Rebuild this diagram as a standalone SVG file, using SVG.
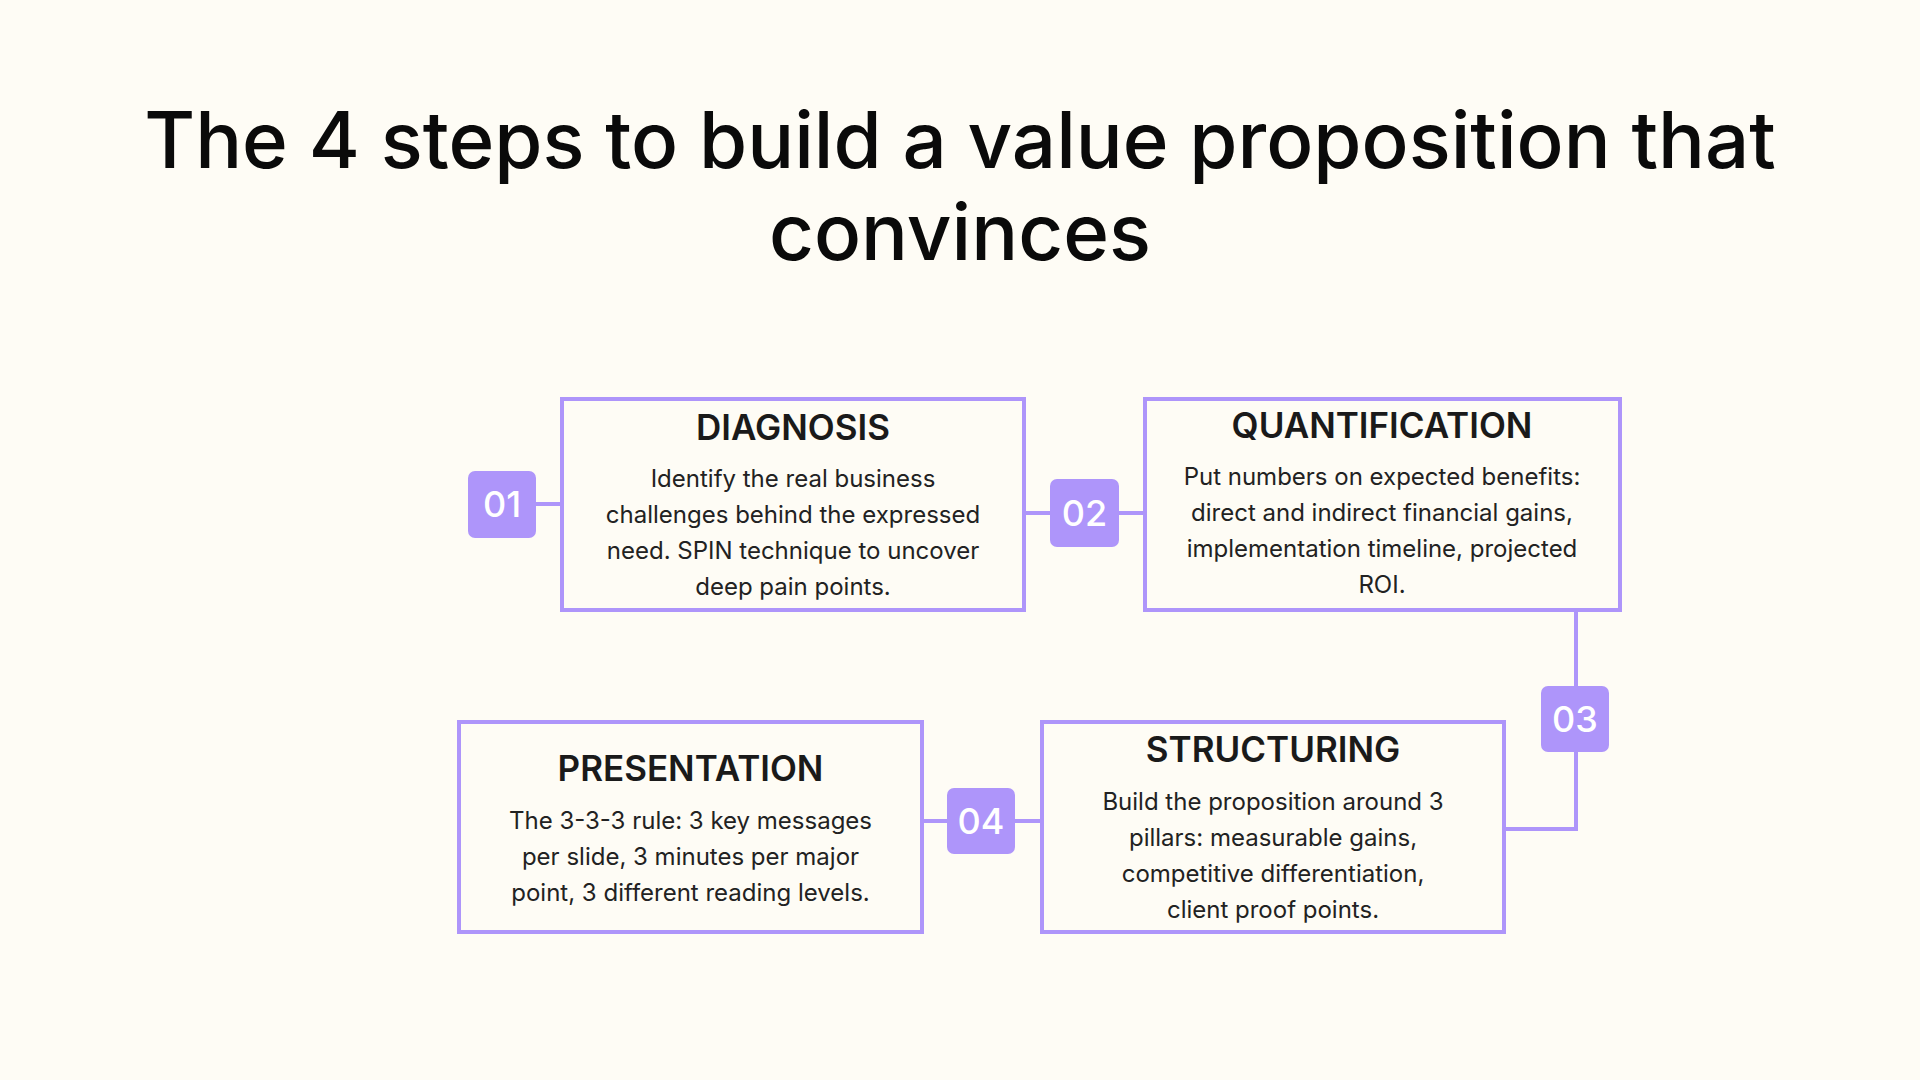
<svg xmlns="http://www.w3.org/2000/svg" width="1920" height="1080" viewBox="0 0 1920 1080">
  <style>
    .bg { fill: #FEFCF5; }
    .box { fill: #FEFCF5; stroke: #AE95FA; stroke-width: 4; }
    .badge { fill: #AE95FA; }
    .conn { stroke: #AE95FA; stroke-width: 4; fill: none; }
    .title { font-family: Inter, "Noto Sans", sans-serif; font-size: 78px; font-weight: 500; fill: #0a0a0a; text-anchor: middle; }
    .head { font-family: Inter, "Noto Sans", sans-serif; font-size: 35px; font-weight: 600; fill: #1a1a1a; text-anchor: middle; }
    .body { font-family: Inter, "Noto Sans", sans-serif; font-size: 24px; font-weight: 400; fill: #222222; text-anchor: middle; }
    .num { font-family: Inter, "Noto Sans", sans-serif; font-size: 36px; font-weight: 500; fill: #ffffff; text-anchor: middle; }
  </style>
  <rect class="bg" x="0" y="0" width="1920" height="1080"/>
  <g id="title">
    <text class="title" x="960" y="168">The 4 steps to build a value proposition that</text>
    <text class="title" x="960" y="260">convinces</text>
  </g>
  <g id="connectors">
    <line class="conn" x1="536" y1="504" x2="562" y2="504"/>
    <line class="conn" x1="1024" y1="513" x2="1050" y2="513"/>
    <line class="conn" x1="1119" y1="513" x2="1145" y2="513"/>
    <line class="conn" x1="1576" y1="610" x2="1576" y2="687"/>
    <polyline class="conn" points="1576,751 1576,829 1504,829"/>
    <line class="conn" x1="1015" y1="821" x2="1042" y2="821"/>
    <line class="conn" x1="920" y1="821" x2="947" y2="821"/>
  </g>
  <g id="step1">
    <rect class="box" x="562" y="399" width="462" height="211"/>
    <text class="head" x="793" y="440">DIAGNOSIS</text>
    <text class="body" x="793" y="487">Identify the real business</text>
    <text class="body" x="793" y="523">challenges behind the expressed</text>
    <text class="body" x="793" y="559">need. SPIN technique to uncover</text>
    <text class="body" x="793" y="595">deep pain points.</text>
    <rect class="badge" x="468" y="471" width="68" height="67" rx="7"/>
    <text class="num" x="502" y="517">01</text>
  </g>
  <g id="step2">
    <rect class="box" x="1145" y="399" width="475" height="211"/>
    <text class="head" x="1382" y="438">QUANTIFICATION</text>
    <text class="body" x="1382" y="485">Put numbers on expected benefits:</text>
    <text class="body" x="1382" y="521">direct and indirect financial gains,</text>
    <text class="body" x="1382" y="557">implementation timeline, projected</text>
    <text class="body" x="1382" y="593">ROI.</text>
    <rect class="badge" x="1050" y="479" width="69" height="68" rx="7"/>
    <text class="num" x="1084.5" y="526">02</text>
  </g>
  <g id="step3">
    <rect class="box" x="1042" y="722" width="462" height="210"/>
    <text class="head" x="1273" y="762">STRUCTURING</text>
    <text class="body" x="1273" y="810">Build the proposition around 3</text>
    <text class="body" x="1273" y="846">pillars: measurable gains,</text>
    <text class="body" x="1273" y="882">competitive differentiation,</text>
    <text class="body" x="1273" y="918">client proof points.</text>
    <rect class="badge" x="1541" y="686" width="68" height="66" rx="7"/>
    <text class="num" x="1575" y="732">03</text>
  </g>
  <g id="step4">
    <rect class="box" x="459" y="722" width="463" height="210"/>
    <text class="head" x="690.5" y="781">PRESENTATION</text>
    <text class="body" x="690.5" y="829">The 3-3-3 rule: 3 key messages</text>
    <text class="body" x="690.5" y="865">per slide, 3 minutes per major</text>
    <text class="body" x="690.5" y="901">point, 3 different reading levels.</text>
    <rect class="badge" x="947" y="788" width="68" height="66" rx="7"/>
    <text class="num" x="981" y="834">04</text>
  </g>
</svg>
